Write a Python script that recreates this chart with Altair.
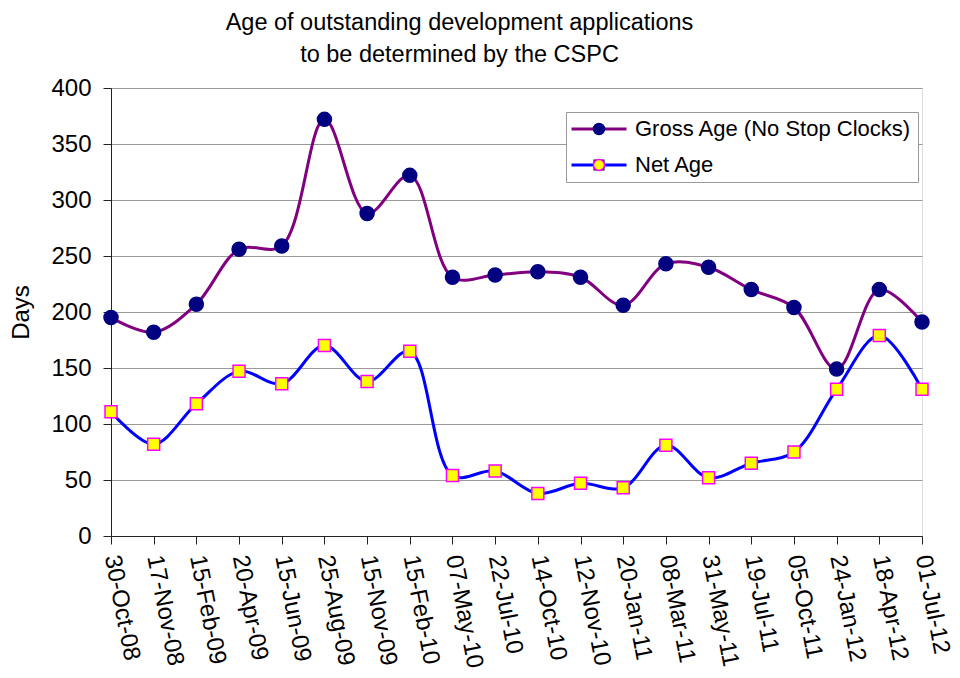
import altair as alt
import pandas as pd

dates = ["30-Oct-08", "17-Nov-08", "15-Feb-09", "20-Apr-09", "15-Jun-09",
         "25-Aug-09", "15-Nov-09", "15-Feb-10", "07-May-10", "22-Jul-10",
         "14-Oct-10", "12-Nov-10", "20-Jan-11", "08-Mar-11", "31-May-11",
         "19-Jul-11", "05-Oct-11", "24-Jan-12", "18-Apr-12", "01-Jul-12"]
gross = [195, 182, 207, 256, 259, 372, 288, 322, 231, 233,
         236, 231, 206, 243, 240, 220, 204, 149, 220, 191]
net = [111, 82, 118, 147, 136, 170, 138, 165, 54, 58,
       38, 47, 43, 81, 52, 65, 75, 131, 179, 131]
series_names = ["Gross Age (No Stop Clocks)", "Net Age"]

rows = []
for d, g, n in zip(dates, gross, net):
    rows.append({"date": d, "series": series_names[0], "marker": series_names[0], "days": g})
    rows.append({"date": d, "series": series_names[1], "marker": series_names[1], "days": n})
df = pd.DataFrame(rows)

FONT = "Liberation Sans"

x_enc = alt.X("date:O", sort=dates, title=None,
              scale=alt.Scale(type="point", padding=0),
              axis=alt.Axis(labelAngle=79, labelAlign="left", labelBaseline="middle",
                            labelFontSize=24, labelFont=FONT, labelColor="black",
                            labelPadding=11, labelOffset=0, tickSize=8,
                            tickColor="#222222", domainColor="#222222", grid=False,
                            labelOverlap=False, labelBound=False))
y_enc = alt.Y("days:Q", title="Days",
              scale=alt.Scale(domain=[0, 400], nice=False),
              axis=alt.Axis(values=list(range(0, 401, 50)), labelFontSize=24,
                            labelFont=FONT, labelColor="black", labelPadding=12,
                            tickSize=8, tickColor="#222222", domainColor="#222222",
                            grid=True, gridColor="#9a9a9a", titleFontSize=24,
                            titleFont=FONT, titleFontWeight="normal",
                            titleColor="black", titlePadding=17))

common = dict(title=None, orient="none", legendX=455, legendY=24, symbolSize=121,
              labelFontSize=22, labelFont=FONT, labelLimit=500,
              symbolOffset=16, labelOffset=25, rowPadding=14, padding=6)

line_legend = alt.Legend(symbolType="M-5,0L5,0", symbolStrokeWidth=3,
                         labelColor="black", strokeColor="#999999",
                         fillColor="white", zindex=1, **common)

pt_legend = alt.Legend(symbolStrokeWidth=1.5,
                       symbolStrokeColor=alt.ExprRef(
                           expr="datum.value === 'Net Age' ? '#FF00FF' : '#000080'"),
                       labelOpacity=0, zindex=2, **common)

lines = alt.Chart(df).mark_line(interpolate="catmull-rom", strokeWidth=3).encode(
    x=x_enc, y=y_enc,
    stroke=alt.Stroke("series:N", sort=series_names,
                      scale=alt.Scale(domain=series_names, range=["#800080", "#0000FF"]),
                      legend=line_legend),
)

is_net = alt.datum.marker == "Net Age"
points = alt.Chart(df).mark_point(filled=True, opacity=1, strokeWidth=1.5).encode(
    x=x_enc, y=y_enc,
    fill=alt.Fill("marker:N", sort=series_names,
                  scale=alt.Scale(range=["#000080", "#FFFF00"]),
                  legend=pt_legend),
    shape=alt.Shape("marker:N", sort=series_names,
                    scale=alt.Scale(range=["circle", "square"]),
                    legend=pt_legend),
    stroke=alt.when(is_net).then(alt.value("#FF00FF")).otherwise(alt.value("#000080")),
    size=alt.when(is_net).then(alt.value(144)).otherwise(alt.value(196)),
)

chart = alt.layer(lines, points).properties(
    width=811, height=448,
    title=alt.Title(text=["Age of outstanding development applications",
                          "to be determined by the CSPC"],
                    fontSize=23.5, font=FONT, fontWeight="normal", color="black",
                    lineHeight=32, offset=10, dx=-57, anchor="middle"),
    autosize=alt.AutoSizeParams(type="none"),
    padding={"left": 103, "top": 80, "right": 30, "bottom": 134},
).configure_view(stroke=None).configure(background="white")

chart.save("out.html", embed_options={"renderer": "svg", "actions": False})
